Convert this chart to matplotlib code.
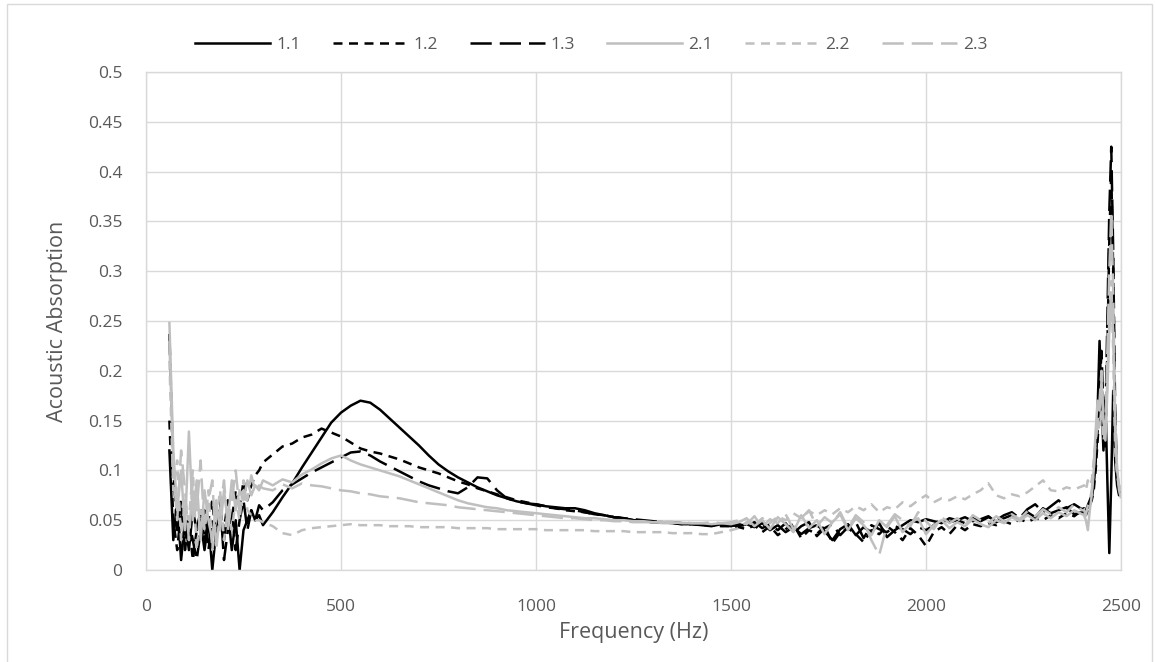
import matplotlib
matplotlib.use("Agg")
import matplotlib.pyplot as plt
from matplotlib.patches import Rectangle
import numpy as np

# frequency grids (Hz) for the four stretches of the sweep
freq_low = np.arange(60, 301, 10)      # noisy start
freq_mid = np.arange(325, 1501, 25)    # smooth resonance part
freq_high = np.arange(1520, 2401, 20)  # noisy plateau
freq_peak = np.arange(2405, 2501, 5)   # end spike

# ---- series 1.1 (black solid)
s11_low = [0.12, 0.03, 0.07, 0.01, 0.05, 0.02, 0.06, 0.04, 0.05, 0.02, 0.05, 0.00, 0.04,
           0.05, 0.03, 0.06, 0.02, 0.05, 0.00, 0.04, 0.05, 0.06, 0.05, 0.055, 0.045]
s11_mid = [0.058, 0.073, 0.087, 0.103, 0.118, 0.133, 0.148, 0.158, 0.165, 0.170, 0.168, 0.161,
           0.152, 0.143, 0.134, 0.125, 0.115, 0.106, 0.099, 0.093, 0.088, 0.083, 0.079, 0.075,
           0.072, 0.069, 0.067, 0.066, 0.064, 0.063, 0.062, 0.062, 0.060, 0.057, 0.055, 0.053,
           0.052, 0.050, 0.049, 0.048, 0.048, 0.047, 0.046, 0.046, 0.045, 0.044, 0.046, 0.045]
s11_high = [0.044, 0.046, 0.043, 0.047, 0.040, 0.045, 0.038, 0.043, 0.036, 0.042, 0.045, 0.039,
            0.030, 0.041, 0.046, 0.035, 0.043, 0.038, 0.047, 0.033, 0.040, 0.045, 0.050, 0.048,
            0.051, 0.049, 0.047, 0.052, 0.050, 0.053, 0.049, 0.051, 0.054, 0.048, 0.052, 0.055,
            0.050, 0.058, 0.053, 0.062, 0.057, 0.060, 0.063, 0.056, 0.058]
s11_peak = [0.058, 0.060, 0.065, 0.070, 0.075, 0.090, 0.110, 0.160, 0.230, 0.170,
            0.120, 0.170, 0.090, 0.017, 0.090, 0.180, 0.110, 0.085, 0.075, 0.080]

# ---- series 1.2 (black dash)
s12_low = [0.15, 0.05, 0.02, 0.06, 0.03, 0.05, 0.01, 0.04, 0.06, 0.03, 0.05, 0.07, 0.03,
           0.06, 0.04, 0.07, 0.05, 0.08, 0.06, 0.09, 0.07, 0.085, 0.095, 0.10, 0.108]
s12_mid = [0.116, 0.124, 0.127, 0.133, 0.136, 0.142, 0.138, 0.134, 0.128, 0.122, 0.119, 0.117,
           0.114, 0.111, 0.107, 0.103, 0.100, 0.097, 0.093, 0.089, 0.086, 0.082, 0.079, 0.076,
           0.073, 0.070, 0.068, 0.066, 0.064, 0.062, 0.060, 0.059, 0.058, 0.056, 0.055, 0.053,
           0.052, 0.050, 0.049, 0.048, 0.048, 0.047, 0.046, 0.046, 0.045, 0.045, 0.044, 0.044]
s12_high = [0.043, 0.041, 0.045, 0.038, 0.044, 0.035, 0.041, 0.046, 0.032, 0.040, 0.036, 0.044,
            0.027, 0.038, 0.042, 0.036, 0.028, 0.040, 0.036, 0.044, 0.038, 0.030, 0.042, 0.035,
            0.024, 0.038, 0.043, 0.036, 0.045, 0.040, 0.046, 0.044, 0.047, 0.045, 0.049, 0.046,
            0.051, 0.048, 0.052, 0.050, 0.055, 0.052, 0.057, 0.054, 0.060]
s12_peak = [0.060, 0.055, 0.060, 0.065, 0.070, 0.080, 0.100, 0.130, 0.160, 0.200,
            0.140, 0.120, 0.220, 0.330, 0.400, 0.300, 0.140, 0.090, 0.078, 0.075]

# ---- series 1.3 (black long dash)
s13_low = [0.237, 0.10, 0.04, 0.07, 0.02, 0.05, 0.03, 0.01, 0.04, 0.06, 0.02, 0.05, 0.03,
           0.07, 0.01, 0.04, 0.06, 0.02, 0.05, 0.07, 0.04, 0.06, 0.05, 0.065, 0.06]
s13_mid = [0.068, 0.080, 0.086, 0.092, 0.098, 0.103, 0.108, 0.113, 0.118, 0.119, 0.115, 0.109,
           0.104, 0.099, 0.094, 0.089, 0.085, 0.082, 0.079, 0.077, 0.083, 0.093, 0.092, 0.080,
           0.072, 0.069, 0.067, 0.065, 0.063, 0.062, 0.061, 0.060, 0.058, 0.056, 0.055, 0.053,
           0.052, 0.051, 0.050, 0.049, 0.048, 0.048, 0.047, 0.047, 0.046, 0.045, 0.045, 0.044]
s13_high = [0.046, 0.044, 0.048, 0.042, 0.046, 0.040, 0.047, 0.037, 0.044, 0.048, 0.034, 0.042,
            0.046, 0.035, 0.043, 0.048, 0.032, 0.045, 0.041, 0.038, 0.044, 0.041, 0.036, 0.043,
            0.040, 0.045, 0.052, 0.048, 0.050, 0.047, 0.052, 0.049, 0.053, 0.050, 0.055, 0.058,
            0.052, 0.061, 0.066, 0.058, 0.064, 0.070, 0.062, 0.066, 0.061]
s13_peak = [0.062, 0.058, 0.063, 0.068, 0.072, 0.085, 0.110, 0.140, 0.180, 0.220,
            0.160, 0.150, 0.250, 0.360, 0.425, 0.320, 0.160, 0.090, 0.080, 0.078]

# ---- series 2.1 (grey solid)
s21_low = [0.248, 0.12, 0.06, 0.10, 0.04, 0.139, 0.05, 0.09, 0.03, 0.08, 0.05, 0.03, 0.07,
           0.04, 0.08, 0.05, 0.09, 0.06, 0.08, 0.07, 0.09, 0.075, 0.085, 0.08, 0.09]
s21_mid = [0.085, 0.091, 0.088, 0.096, 0.101, 0.107, 0.112, 0.115, 0.110, 0.106, 0.103, 0.100,
           0.097, 0.094, 0.090, 0.086, 0.082, 0.078, 0.074, 0.070, 0.067, 0.065, 0.063, 0.062,
           0.060, 0.059, 0.058, 0.057, 0.056, 0.055, 0.054, 0.053, 0.052, 0.052, 0.051, 0.050,
           0.050, 0.049, 0.049, 0.048, 0.048, 0.048, 0.047, 0.047, 0.047, 0.046, 0.047, 0.046]
s21_high = [0.048, 0.052, 0.044, 0.050, 0.041, 0.053, 0.046, 0.038, 0.055, 0.042, 0.050, 0.036,
            0.048, 0.056, 0.040, 0.052, 0.045, 0.035, 0.050, 0.043, 0.054, 0.038, 0.047, 0.052,
            0.036, 0.045, 0.050, 0.042, 0.048, 0.044, 0.051, 0.046, 0.043, 0.050, 0.047, 0.053,
            0.049, 0.055, 0.050, 0.057, 0.052, 0.058, 0.054, 0.060, 0.056]
s21_peak = [0.055, 0.050, 0.040, 0.060, 0.075, 0.100, 0.140, 0.170, 0.160, 0.190,
            0.150, 0.130, 0.180, 0.240, 0.270, 0.240, 0.140, 0.100, 0.085, 0.080]

# ---- series 2.2 (grey dash)
s22_low = [0.21, 0.08, 0.11, 0.03, 0.07, 0.05, 0.10, 0.02, 0.06, 0.04, 0.08, 0.02, 0.05,
           0.08, 0.03, 0.06, 0.04, 0.07, 0.05, 0.09, 0.06, 0.055, 0.05, 0.05, 0.048]
s22_mid = [0.044, 0.037, 0.035, 0.040, 0.042, 0.043, 0.044, 0.045, 0.046, 0.045, 0.045, 0.045,
           0.044, 0.044, 0.044, 0.043, 0.043, 0.043, 0.043, 0.042, 0.042, 0.042, 0.042, 0.041,
           0.041, 0.041, 0.041, 0.041, 0.040, 0.040, 0.040, 0.040, 0.040, 0.039, 0.039, 0.039,
           0.039, 0.038, 0.038, 0.038, 0.038, 0.037, 0.037, 0.037, 0.036, 0.036, 0.038, 0.040]
s22_high = [0.042, 0.048, 0.045, 0.052, 0.047, 0.054, 0.050, 0.057, 0.052, 0.059, 0.055, 0.060,
            0.056, 0.062, 0.058, 0.064, 0.060, 0.066, 0.058, 0.063, 0.061, 0.068, 0.064, 0.070,
            0.075, 0.068, 0.072, 0.070, 0.074, 0.071, 0.076, 0.080, 0.087, 0.075, 0.072, 0.076,
            0.074, 0.078, 0.084, 0.090, 0.080, 0.079, 0.083, 0.081, 0.084]
s22_peak = [0.085, 0.080, 0.090, 0.085, 0.090, 0.110, 0.130, 0.150, 0.140, 0.160,
            0.130, 0.140, 0.190, 0.250, 0.290, 0.220, 0.120, 0.095, 0.085, 0.082]

# ---- series 2.3 (grey long dash)
s23_low = [0.23, 0.10, 0.05, 0.12, 0.08, 0.03, 0.09, 0.06, 0.11, 0.04, 0.07, 0.09, 0.02,
           0.06, 0.09, 0.04, 0.07, 0.10, 0.06, 0.08, 0.07, 0.095, 0.08, 0.085, 0.082]
s23_mid = [0.080, 0.086, 0.082, 0.087, 0.085, 0.084, 0.082, 0.080, 0.079, 0.077, 0.076, 0.074,
           0.073, 0.072, 0.070, 0.068, 0.067, 0.066, 0.065, 0.063, 0.062, 0.061, 0.060, 0.059,
           0.058, 0.057, 0.056, 0.055, 0.054, 0.053, 0.052, 0.052, 0.051, 0.050, 0.050, 0.049,
           0.049, 0.048, 0.048, 0.048, 0.047, 0.047, 0.048, 0.047, 0.047, 0.048, 0.047, 0.048]
s23_high = [0.050, 0.046, 0.054, 0.043, 0.051, 0.047, 0.056, 0.041, 0.052, 0.060, 0.044, 0.053,
            0.047, 0.058, 0.042, 0.055, 0.048, 0.030, 0.015, 0.045, 0.056, 0.050, 0.044, 0.058,
            0.049, 0.041, 0.053, 0.047, 0.052, 0.045, 0.055, 0.050, 0.047, 0.054, 0.049, 0.056,
            0.051, 0.059, 0.054, 0.061, 0.056, 0.063, 0.058, 0.066, 0.060]
s23_peak = [0.060, 0.055, 0.065, 0.070, 0.080, 0.100, 0.130, 0.150, 0.170, 0.200,
            0.150, 0.140, 0.220, 0.300, 0.360, 0.280, 0.150, 0.100, 0.080, 0.072]

labels = ["1.1", "1.2", "1.3", "2.1", "2.2", "2.3"]
x_ticks = [0, 500, 1000, 1500, 2000, 2500]
y_ticks = [0, 0.05, 0.1, 0.15, 0.2, 0.25, 0.3, 0.35, 0.4, 0.45, 0.5]

BLACK, GREY = "#000000", "#BFBFBF"
TEXT, GRID = "#595959", "#D9D9D9"
SOLID = "-"
DASH = (0, (3.6, 2.6))
LONG = (0, (8.5, 3.2))

freq = np.concatenate([freq_low, freq_mid, freq_high, freq_peak])
series = [
    (s11_low + s11_mid + s11_high + s11_peak, BLACK, SOLID),
    (s12_low + s12_mid + s12_high + s12_peak, BLACK, DASH),
    (s13_low + s13_mid + s13_high + s13_peak, BLACK, LONG),
    (s21_low + s21_mid + s21_high + s21_peak, GREY, SOLID),
    (s22_low + s22_mid + s22_high + s22_peak, GREY, DASH),
    (s23_low + s23_mid + s23_high + s23_peak, GREY, LONG),
]

plt.rcParams["font.family"] = ["Open Sans", "DejaVu Sans"]

fig = plt.figure(figsize=(11.55, 6.62), dpi=100)
ax = fig.add_axes([146 / 1155, 1 - 570 / 662, 975 / 1155, 498 / 662])

for (vals, color, ls), lab in zip(series, labels):
    ax.plot(freq, vals, color=color, ls=ls, lw=1.8, label=lab)

ax.set_xlim(0, 2500)
ax.set_ylim(0, 0.5)
ax.set_xticks(x_ticks)
ax.set_yticks(y_ticks)
ax.set_yticklabels([f"{v:g}" for v in y_ticks])
ax.grid(True, color=GRID, lw=1)
ax.set_axisbelow(True)
for sp in ax.spines.values():
    sp.set_color(GRID)
    sp.set_linewidth(1)
ax.tick_params(length=0, labelsize=12.5, labelcolor=TEXT)
ax.tick_params(axis="x", pad=21)
ax.tick_params(axis="y", pad=17)
ax.set_xlabel("Frequency (Hz)", fontsize=15.5, color=TEXT, labelpad=5)
ax.set_ylabel("Acoustic Absorption", fontsize=15.5, color=TEXT, labelpad=14)

leg = fig.legend(loc="center", bbox_to_anchor=(0.512, 0.932), ncol=6, frameon=False,
                 fontsize=12.5, handlelength=4.3, handletextpad=0.35, columnspacing=1.85)
for t in leg.get_texts():
    t.set_color(TEXT)

# chart-area border like the spreadsheet export
fig.patches.append(Rectangle((7 / 1155, -0.02), 1145 / 1155, 1.02 - 4 / 662,
                             transform=fig.transFigure, fill=False,
                             edgecolor=GRID, lw=1))

fig.savefig("out.png", dpi=100)
